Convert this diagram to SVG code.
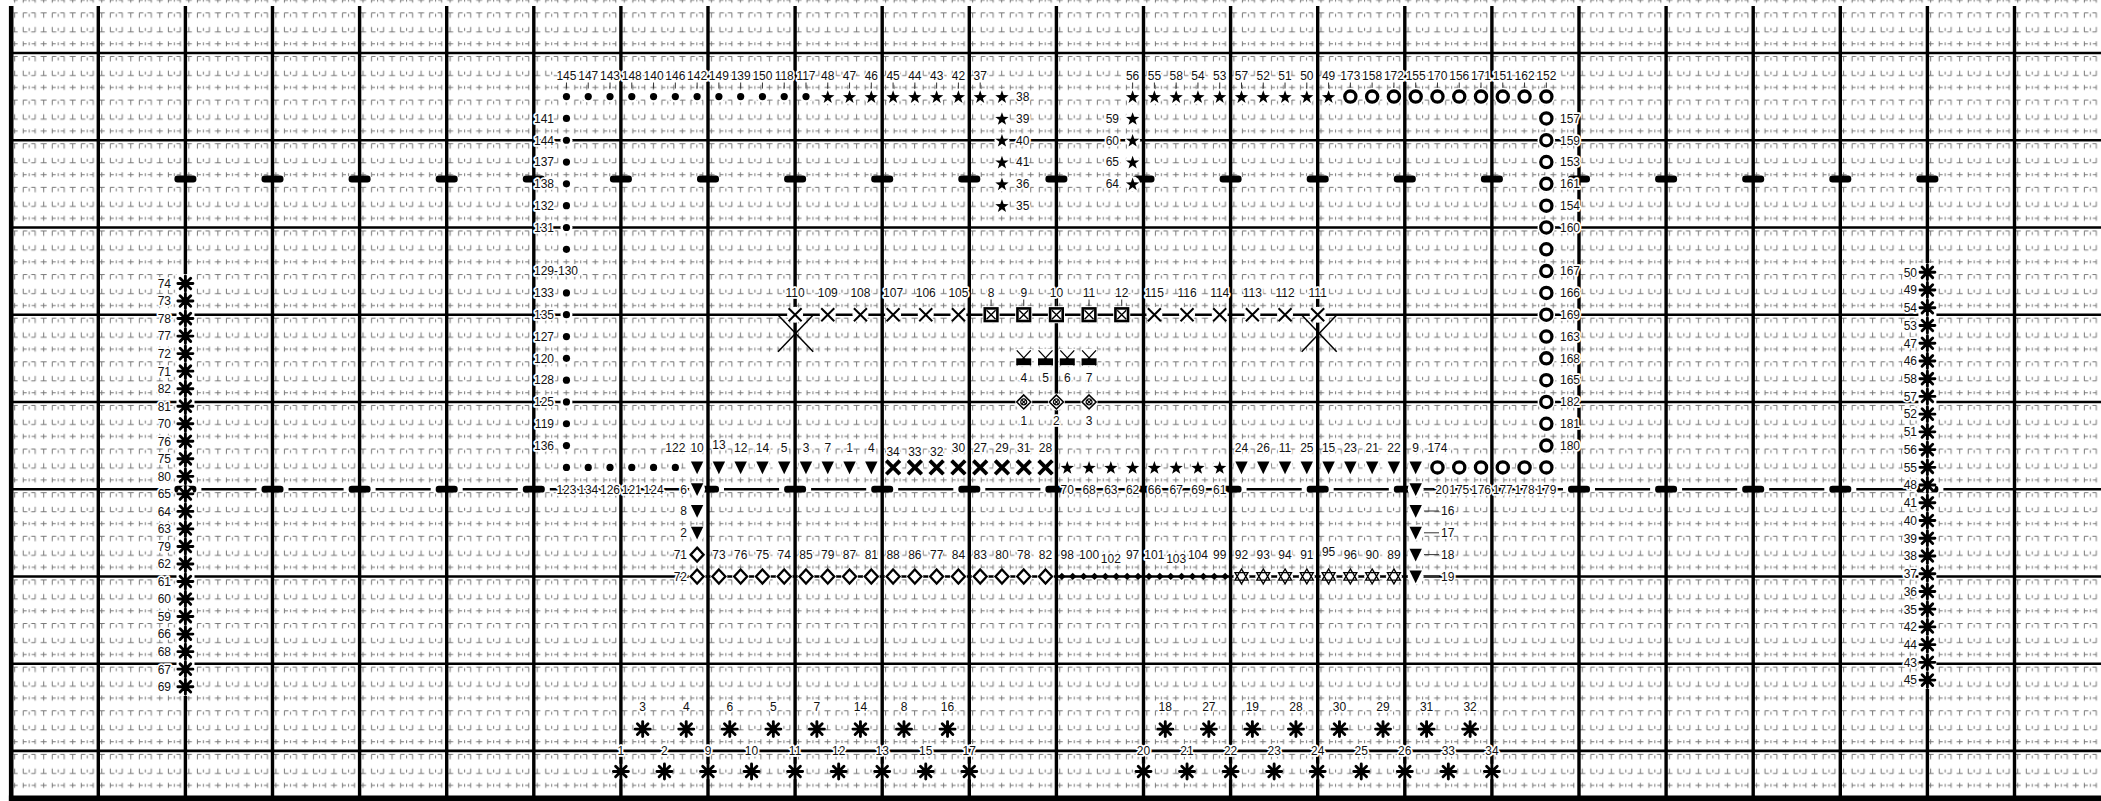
<svg xmlns="http://www.w3.org/2000/svg" width="2101" height="801" viewBox="0 0 2101 801">
<style>
.t{font-family:"Liberation Sans",Arial,sans-serif;font-size:12px;fill:#111;stroke:#fff;stroke-width:3.5px;stroke-linejoin:round;paint-order:stroke;text-anchor:middle}
.te{text-anchor:end}.ts{text-anchor:start}
.hl{stroke:#000;stroke-width:2.6px}
.vl{stroke:#000;stroke-width:3.4px}
.tk{stroke:#333;stroke-width:1px;fill:none}
.big{stroke:#000;stroke-width:1.5px}
</style>
<defs>
<pattern id="tx" patternUnits="userSpaceOnUse" x="11.2" y="53" width="29.03" height="43.62">
<path d="M0.5,3.5H6.5M3.5,3.5V8.5M12,3.5H16M12,3.5V8.5M18,4.5V7.5M20,3.5H24M24,3.5V8.5M3.5,17.5V22.5M0.5,22.5H6.5M12,17.5V22.5M12,22.5H16M18,18.5V21.5M24,17.5V22.5M20,22.5H24M0.5,34.5H6.5M3.5,32V37M12,32V37M12,34.5H15.5M18,33V36M24,32V37M20.5,34.5H24" stroke="#777" stroke-width="1" fill="none"/>
</pattern>
<g id="s-dot"><circle r="6" fill="#fff"/><circle r="3.6" fill="#000"/></g>
<g id="s-star"><circle r="7.5" fill="#fff"/><path transform="translate(0,0.7)" d="M0,-7L1.65,-2.27L6.66,-2.16L2.66,0.87L4.11,5.66L0,2.8L-4.11,5.66L-2.66,0.87L-6.66,-2.16L-1.65,-2.27Z" fill="#000"/></g>
<g id="s-tri"><circle r="8" fill="#fff"/><path d="M-6.2,-6H6.2L0,6.8Z" fill="#000"/></g>
<g id="s-bx"><circle r="8.5" fill="#fff"/><path d="M-5.5,-5.5L5.5,5.5M5.5,-5.5L-5.5,5.5" stroke="#000" stroke-width="3.8" stroke-linecap="square"/></g>
<g id="s-tx"><circle r="8" fill="#fff"/><path d="M-6.5,-6.5L6.5,6.5M6.5,-6.5L-6.5,6.5" stroke="#000" stroke-width="2"/></g>
<g id="s-box"><rect x="-8.5" y="-8.5" width="17" height="17" fill="#fff"/><rect x="-6.3" y="-6.3" width="12.6" height="12.6" fill="#fff" stroke="#000" stroke-width="2.6"/><path d="M-4.5,-4.5L4.5,4.5M4.5,-4.5L-4.5,4.5" stroke="#000" stroke-width="1.4"/></g>
<g id="s-ring"><circle r="8.8" fill="#fff"/><circle r="5.6" fill="#fff" stroke="#000" stroke-width="3.3"/></g>
<g id="s-dia"><circle r="8.5" fill="#fff"/><path d="M0,-7L6.5,0L0,7L-6.5,0Z" fill="#fff" stroke="#000" stroke-width="2.3"/></g>
<g id="s-sd"><path d="M0,-3.6L3.8,0L0,3.6L-3.8,0Z" fill="#000"/></g>
<g id="s-hex"><circle r="8" fill="#fff"/><path d="M0,-7.5L6.5,3.75H-6.5Z M0,7.5L6.5,-3.75H-6.5Z" fill="#fff" stroke="#000" stroke-width="1.3"/></g>
<g id="s-bxr"><rect x="-8.5" y="-9.5" width="17" height="17.5" fill="#fff"/><path d="M-7,-8L7,7M7,-8L-7,7" stroke="#000" stroke-width="1.3"/><rect x="-7.5" y="0" width="15" height="6.8" fill="#000"/></g>
<g id="s-dd"><circle r="8.5" fill="#fff"/><path d="M0,-7L7,0L0,7L-7,0Z" fill="#fff" stroke="#000" stroke-width="1.6"/><circle r="3" fill="none" stroke="#000" stroke-width="1.2"/><path d="M-2.1,-2.1L2.1,2.1M2.1,-2.1L-2.1,2.1" stroke="#000" stroke-width="1.2"/></g>
<g id="s-ast"><circle r="8" fill="#fff"/><path d="M0,-7.5V7.5M-7.5,0H7.5M-5.3,-5.3L5.3,5.3M5.3,-5.3L-5.3,5.3" stroke="#000" stroke-width="2.9" stroke-linecap="round"/></g>
<g id="s-bar"><rect x="-16" y="-2" width="32" height="4" fill="#fff"/><rect x="-11" y="-3.4" width="22" height="6.8" rx="3.2" fill="#000"/></g>
</defs>
<rect width="2101" height="801" fill="#fff"/>
<rect x="13.5" y="0" width="2087.5" height="796" fill="url(#tx)"/>
<g id="grid">
<path class="hl" d="M11,53H2101M11,140.24H2101M11,227.48H2101M11,314.72H2101M11,401.96H2101M11,489.2H2101M11,576.44H2101M11,663.68H2101M11,750.92H2101"/>
<path class="vl" d="M98.3,6V797M185.4,6V797M272.5,6V797M359.6,6V797M446.7,6V797M533.8,6V797M620.9,6V797M708,6V797M795.1,6V797M882.2,6V797M969.3,6V797M1056.4,6V797M1143.5,6V797M1230.6,6V797M1317.7,6V797M1404.8,6V797M1491.9,6V797M1579,6V797M1666.1,6V797M1753.2,6V797M1840.3,6V797M1927.4,6V797M2014.5,6V797"/>
<rect x="8.9" y="6" width="4.6" height="795" fill="#000"/>
<rect x="8.9" y="795.5" width="2092.1" height="5.5" fill="#000"/>
<rect x="176.5" y="274" width="18" height="422" fill="#fff"/>
<rect x="1918.4" y="263" width="18" height="426" fill="#fff"/>
</g>
<g id="bars">
<use href="#s-bar" x="185.4" y="179"/><use href="#s-bar" x="272.5" y="179"/><use href="#s-bar" x="359.6" y="179"/><use href="#s-bar" x="446.7" y="179"/><use href="#s-bar" x="533.8" y="179"/><use href="#s-bar" x="620.9" y="179"/><use href="#s-bar" x="708" y="179"/><use href="#s-bar" x="795.1" y="179"/><use href="#s-bar" x="882.2" y="179"/><use href="#s-bar" x="969.3" y="179"/><use href="#s-bar" x="1056.4" y="179"/><use href="#s-bar" x="1143.5" y="179"/><use href="#s-bar" x="1230.6" y="179"/><use href="#s-bar" x="1317.7" y="179"/><use href="#s-bar" x="1404.8" y="179"/><use href="#s-bar" x="1491.9" y="179"/><use href="#s-bar" x="1579" y="179"/><use href="#s-bar" x="1666.1" y="179"/><use href="#s-bar" x="1753.2" y="179"/><use href="#s-bar" x="1840.3" y="179"/><use href="#s-bar" x="1927.4" y="179"/>
<use href="#s-bar" x="185.4" y="489.2"/><use href="#s-bar" x="272.5" y="489.2"/><use href="#s-bar" x="359.6" y="489.2"/><use href="#s-bar" x="446.7" y="489.2"/><use href="#s-bar" x="533.8" y="489.2"/><use href="#s-bar" x="620.9" y="489.2"/><use href="#s-bar" x="708" y="489.2"/><use href="#s-bar" x="795.1" y="489.2"/><use href="#s-bar" x="882.2" y="489.2"/><use href="#s-bar" x="969.3" y="489.2"/><use href="#s-bar" x="1056.4" y="489.2"/><use href="#s-bar" x="1143.5" y="489.2"/><use href="#s-bar" x="1230.6" y="489.2"/><use href="#s-bar" x="1317.7" y="489.2"/><use href="#s-bar" x="1404.8" y="489.2"/><use href="#s-bar" x="1491.9" y="489.2"/><use href="#s-bar" x="1579" y="489.2"/><use href="#s-bar" x="1666.1" y="489.2"/><use href="#s-bar" x="1753.2" y="489.2"/><use href="#s-bar" x="1840.3" y="489.2"/><use href="#s-bar" x="1927.4" y="489.2"/>
</g>
<g id="connectors">
<path class="tk" d="M566.46,82.5V88.5M588.24,82.5V88.5M610.01,82.5V88.5M631.79,82.5V88.5M653.56,82.5V88.5M675.34,82.5V88.5M697.11,82.5V88.5M718.89,82.5V88.5M740.66,82.5V88.5M762.44,82.5V88.5M784.21,82.5V88.5M805.99,82.5V88.5M827.76,82.5V88.5M849.54,82.5V88.5M871.31,82.5V88.5M893.09,82.5V88.5M914.86,82.5V88.5M936.64,82.5V88.5M958.41,82.5V88.5M980.19,82.5V88.5M1132.61,82.5V88.5M1154.39,82.5V88.5M1176.16,82.5V88.5M1197.94,82.5V88.5M1219.71,82.5V88.5M1241.49,82.5V88.5M1263.26,82.5V88.5M1285.04,82.5V88.5M1306.81,82.5V88.5M1328.59,82.5V88.5M1350.36,82.5V88.5M1372.14,82.5V88.5M1393.91,82.5V88.5M1415.69,82.5V88.5M1437.46,82.5V88.5M1459.24,82.5V88.5M1481.01,82.5V88.5M1502.79,82.5V88.5M1524.56,82.5V88.5M1546.34,82.5V88.5"/>
<path class="tk" d="M991.08,299.5V306.5M1023.74,299.5V306.5M1056.4,299.5V306.5M1089.06,299.5V306.5M1121.73,299.5V306.5"/>
<path class="tk" d="M1424,511H1439M1424,532.8H1439M1424,554.6H1439M1424,576.4H1439M1424,489.2H1433"/>
</g>
<g id="nodes">
<g id="dot-145"><use href="#s-dot" x="566.46" y="96.62"/><text class="t" x="566.46" y="80">145</text></g>
<g id="dot-147"><use href="#s-dot" x="588.24" y="96.62"/><text class="t" x="588.24" y="80">147</text></g>
<g id="dot-143"><use href="#s-dot" x="610.01" y="96.62"/><text class="t" x="610.01" y="80">143</text></g>
<g id="dot-148"><use href="#s-dot" x="631.79" y="96.62"/><text class="t" x="631.79" y="80">148</text></g>
<g id="dot-140"><use href="#s-dot" x="653.56" y="96.62"/><text class="t" x="653.56" y="80">140</text></g>
<g id="dot-146"><use href="#s-dot" x="675.34" y="96.62"/><text class="t" x="675.34" y="80">146</text></g>
<g id="dot-142"><use href="#s-dot" x="697.11" y="96.62"/><text class="t" x="697.11" y="80">142</text></g>
<g id="dot-149"><use href="#s-dot" x="718.89" y="96.62"/><text class="t" x="718.89" y="80">149</text></g>
<g id="dot-139"><use href="#s-dot" x="740.66" y="96.62"/><text class="t" x="740.66" y="80">139</text></g>
<g id="dot-150"><use href="#s-dot" x="762.44" y="96.62"/><text class="t" x="762.44" y="80">150</text></g>
<g id="dot-118"><use href="#s-dot" x="784.21" y="96.62"/><text class="t" x="784.21" y="80">118</text></g>
<g id="dot-117"><use href="#s-dot" x="805.99" y="96.62"/><text class="t" x="805.99" y="80">117</text></g>
<g id="star-48"><use href="#s-star" x="827.76" y="96.62"/><text class="t" x="827.76" y="80">48</text></g>
<g id="star-47"><use href="#s-star" x="849.54" y="96.62"/><text class="t" x="849.54" y="80">47</text></g>
<g id="star-46"><use href="#s-star" x="871.31" y="96.62"/><text class="t" x="871.31" y="80">46</text></g>
<g id="star-45"><use href="#s-star" x="893.09" y="96.62"/><text class="t" x="893.09" y="80">45</text></g>
<g id="star-44"><use href="#s-star" x="914.86" y="96.62"/><text class="t" x="914.86" y="80">44</text></g>
<g id="star-43"><use href="#s-star" x="936.64" y="96.62"/><text class="t" x="936.64" y="80">43</text></g>
<g id="star-42"><use href="#s-star" x="958.41" y="96.62"/><text class="t" x="958.41" y="80">42</text></g>
<g id="star-37"><use href="#s-star" x="980.19" y="96.62"/><text class="t" x="980.19" y="80">37</text></g>
<g id="star-38"><use href="#s-star" x="1001.96" y="96.62"/><text class="t ts" x="1016" y="100.9">38</text></g>
<g id="star-39"><use href="#s-star" x="1001.96" y="118.43"/><text class="t ts" x="1016" y="122.7">39</text></g>
<g id="star-40"><use href="#s-star" x="1001.96" y="140.24"/><text class="t ts" x="1016" y="144.5">40</text></g>
<g id="star-41"><use href="#s-star" x="1001.96" y="162.05"/><text class="t ts" x="1016" y="166.3">41</text></g>
<g id="star-36"><use href="#s-star" x="1001.96" y="183.86"/><text class="t ts" x="1016" y="188.2">36</text></g>
<g id="star-35"><use href="#s-star" x="1001.96" y="205.67"/><text class="t ts" x="1016" y="210">35</text></g>
<g id="star-56"><use href="#s-star" x="1132.61" y="96.62"/><text class="t" x="1132.61" y="80">56</text></g>
<g id="star-55"><use href="#s-star" x="1154.39" y="96.62"/><text class="t" x="1154.39" y="80">55</text></g>
<g id="star-58"><use href="#s-star" x="1176.16" y="96.62"/><text class="t" x="1176.16" y="80">58</text></g>
<g id="star-54"><use href="#s-star" x="1197.94" y="96.62"/><text class="t" x="1197.94" y="80">54</text></g>
<g id="star-53"><use href="#s-star" x="1219.71" y="96.62"/><text class="t" x="1219.71" y="80">53</text></g>
<g id="star-57"><use href="#s-star" x="1241.49" y="96.62"/><text class="t" x="1241.49" y="80">57</text></g>
<g id="star-52"><use href="#s-star" x="1263.26" y="96.62"/><text class="t" x="1263.26" y="80">52</text></g>
<g id="star-51"><use href="#s-star" x="1285.04" y="96.62"/><text class="t" x="1285.04" y="80">51</text></g>
<g id="star-50"><use href="#s-star" x="1306.81" y="96.62"/><text class="t" x="1306.81" y="80">50</text></g>
<g id="star-49"><use href="#s-star" x="1328.59" y="96.62"/><text class="t" x="1328.59" y="80">49</text></g>
<g id="star-59"><use href="#s-star" x="1132.61" y="118.43"/><text class="t te" x="1119" y="122.7">59</text></g>
<g id="star-60"><use href="#s-star" x="1132.61" y="140.24"/><text class="t te" x="1119" y="144.5">60</text></g>
<g id="star-65"><use href="#s-star" x="1132.61" y="162.05"/><text class="t te" x="1119" y="166.3">65</text></g>
<g id="star-64"><use href="#s-star" x="1132.61" y="183.86"/><text class="t te" x="1119" y="188.2">64</text></g>
<g id="ring-173"><use href="#s-ring" x="1350.36" y="96.62"/><text class="t" x="1350.36" y="80">173</text></g>
<g id="ring-158"><use href="#s-ring" x="1372.14" y="96.62"/><text class="t" x="1372.14" y="80">158</text></g>
<g id="ring-172"><use href="#s-ring" x="1393.91" y="96.62"/><text class="t" x="1393.91" y="80">172</text></g>
<g id="ring-155"><use href="#s-ring" x="1415.69" y="96.62"/><text class="t" x="1415.69" y="80">155</text></g>
<g id="ring-170"><use href="#s-ring" x="1437.46" y="96.62"/><text class="t" x="1437.46" y="80">170</text></g>
<g id="ring-156"><use href="#s-ring" x="1459.24" y="96.62"/><text class="t" x="1459.24" y="80">156</text></g>
<g id="ring-171"><use href="#s-ring" x="1481.01" y="96.62"/><text class="t" x="1481.01" y="80">171</text></g>
<g id="ring-151"><use href="#s-ring" x="1502.79" y="96.62"/><text class="t" x="1502.79" y="80">151</text></g>
<g id="ring-162"><use href="#s-ring" x="1524.56" y="96.62"/><text class="t" x="1524.56" y="80">162</text></g>
<g id="ring-152"><use href="#s-ring" x="1546.34" y="96.62"/><text class="t" x="1546.34" y="80">152</text></g>
<g id="ring-157"><use href="#s-ring" x="1546.34" y="118.43"/><text class="t ts" x="1560" y="122.7">157</text></g>
<g id="ring-159"><use href="#s-ring" x="1546.34" y="140.24"/><text class="t ts" x="1560" y="144.5">159</text></g>
<g id="ring-153"><use href="#s-ring" x="1546.34" y="162.05"/><text class="t ts" x="1560" y="166.3">153</text></g>
<g id="ring-161"><use href="#s-ring" x="1546.34" y="183.86"/><text class="t ts" x="1560" y="188.2">161</text></g>
<g id="ring-154"><use href="#s-ring" x="1546.34" y="205.67"/><text class="t ts" x="1560" y="210">154</text></g>
<g id="ring-160"><use href="#s-ring" x="1546.34" y="227.48"/><text class="t ts" x="1560" y="231.8">160</text></g>
<g id="ring-n9"><use href="#s-ring" x="1546.34" y="249.29"/></g>
<g id="ring-167"><use href="#s-ring" x="1546.34" y="271.1"/><text class="t ts" x="1560" y="275.4">167</text></g>
<g id="ring-166"><use href="#s-ring" x="1546.34" y="292.91"/><text class="t ts" x="1560" y="297.2">166</text></g>
<g id="ring-169"><use href="#s-ring" x="1546.34" y="314.72"/><text class="t ts" x="1560" y="319">169</text></g>
<g id="ring-163"><use href="#s-ring" x="1546.34" y="336.53"/><text class="t ts" x="1560" y="340.8">163</text></g>
<g id="ring-168"><use href="#s-ring" x="1546.34" y="358.34"/><text class="t ts" x="1560" y="362.6">168</text></g>
<g id="ring-165"><use href="#s-ring" x="1546.34" y="380.15"/><text class="t ts" x="1560" y="384.4">165</text></g>
<g id="ring-182"><use href="#s-ring" x="1546.34" y="401.96"/><text class="t ts" x="1560" y="406.3">182</text></g>
<g id="ring-181"><use href="#s-ring" x="1546.34" y="423.77"/><text class="t ts" x="1560" y="428.1">181</text></g>
<g id="ring-180"><use href="#s-ring" x="1546.34" y="445.58"/><text class="t ts" x="1560" y="449.9">180</text></g>
<g id="dot-141"><use href="#s-dot" x="566.46" y="118.43"/><text class="t te" x="554" y="122.7">141</text></g>
<g id="dot-144"><use href="#s-dot" x="566.46" y="140.24"/><text class="t te" x="554" y="144.5">144</text></g>
<g id="dot-137"><use href="#s-dot" x="566.46" y="162.05"/><text class="t te" x="554" y="166.3">137</text></g>
<g id="dot-138"><use href="#s-dot" x="566.46" y="183.86"/><text class="t te" x="554" y="188.2">138</text></g>
<g id="dot-132"><use href="#s-dot" x="566.46" y="205.67"/><text class="t te" x="554" y="210">132</text></g>
<g id="dot-131"><use href="#s-dot" x="566.46" y="227.48"/><text class="t te" x="554" y="231.8">131</text></g>
<g id="dot-n9"><use href="#s-dot" x="566.46" y="249.29"/></g>
<g id="dot-129-130"><text class="t te" x="578" y="275.4">129-130</text></g>
<g id="dot-133"><use href="#s-dot" x="566.46" y="292.91"/><text class="t te" x="554" y="297.2">133</text></g>
<g id="dot-135"><use href="#s-dot" x="566.46" y="314.72"/><text class="t te" x="554" y="319">135</text></g>
<g id="dot-127"><use href="#s-dot" x="566.46" y="336.53"/><text class="t te" x="554" y="340.8">127</text></g>
<g id="dot-120"><use href="#s-dot" x="566.46" y="358.34"/><text class="t te" x="554" y="362.6">120</text></g>
<g id="dot-128"><use href="#s-dot" x="566.46" y="380.15"/><text class="t te" x="554" y="384.4">128</text></g>
<g id="dot-125"><use href="#s-dot" x="566.46" y="401.96"/><text class="t te" x="554" y="406.3">125</text></g>
<g id="dot-119"><use href="#s-dot" x="566.46" y="423.77"/><text class="t te" x="554" y="428.1">119</text></g>
<g id="dot-136"><use href="#s-dot" x="566.46" y="445.58"/><text class="t te" x="554" y="449.9">136</text></g>
<g id="dot-123"><use href="#s-dot" x="566.46" y="467.39"/><text class="t" x="566.46" y="493.5">123</text></g>
<g id="dot-134"><use href="#s-dot" x="588.24" y="467.39"/><text class="t" x="588.24" y="493.5">134</text></g>
<g id="dot-126"><use href="#s-dot" x="610.01" y="467.39"/><text class="t" x="610.01" y="493.5">126</text></g>
<g id="dot-121"><use href="#s-dot" x="631.79" y="467.39"/><text class="t" x="631.79" y="493.5">121</text></g>
<g id="dot-124"><use href="#s-dot" x="653.56" y="467.39"/><text class="t" x="653.56" y="493.5">124</text></g>
<g id="dot-122"><use href="#s-dot" x="675.34" y="467.39"/><text class="t" x="675.34" y="451.5">122</text></g>
<g id="tri-10"><use href="#s-tri" x="697.11" y="467.39"/><text class="t" x="697.11" y="451.5">10</text></g>
<g id="tri-13"><use href="#s-tri" x="718.89" y="467.39"/><text class="t" x="718.89" y="449">13</text></g>
<g id="tri-12"><use href="#s-tri" x="740.66" y="467.39"/><text class="t" x="740.66" y="451.5">12</text></g>
<g id="tri-14"><use href="#s-tri" x="762.44" y="467.39"/><text class="t" x="762.44" y="451.5">14</text></g>
<g id="tri-5"><use href="#s-tri" x="784.21" y="467.39"/><text class="t" x="784.21" y="451.5">5</text></g>
<g id="tri-3"><use href="#s-tri" x="805.99" y="467.39"/><text class="t" x="805.99" y="451.5">3</text></g>
<g id="tri-7"><use href="#s-tri" x="827.76" y="467.39"/><text class="t" x="827.76" y="451.5">7</text></g>
<g id="tri-1"><use href="#s-tri" x="849.54" y="467.39"/><text class="t" x="849.54" y="451.5">1</text></g>
<g id="tri-4"><use href="#s-tri" x="871.31" y="467.39"/><text class="t" x="871.31" y="451.5">4</text></g>
<g id="bx-34"><use href="#s-bx" x="893.09" y="467.39"/><text class="t" x="893.09" y="455.5">34</text></g>
<g id="bx-33"><use href="#s-bx" x="914.86" y="467.39"/><text class="t" x="914.86" y="455.5">33</text></g>
<g id="bx-32"><use href="#s-bx" x="936.64" y="467.39"/><text class="t" x="936.64" y="455.5">32</text></g>
<g id="bx-30"><use href="#s-bx" x="958.41" y="467.39"/><text class="t" x="958.41" y="451.5">30</text></g>
<g id="bx-27"><use href="#s-bx" x="980.19" y="467.39"/><text class="t" x="980.19" y="451.5">27</text></g>
<g id="bx-29"><use href="#s-bx" x="1001.96" y="467.39"/><text class="t" x="1001.96" y="451.5">29</text></g>
<g id="bx-31"><use href="#s-bx" x="1023.74" y="467.39"/><text class="t" x="1023.74" y="451.5">31</text></g>
<g id="bx-28"><use href="#s-bx" x="1045.51" y="467.39"/><text class="t" x="1045.51" y="451.5">28</text></g>
<g id="star-70"><use href="#s-star" x="1067.29" y="467.39"/><text class="t" x="1067.29" y="493.5">70</text></g>
<g id="star-68"><use href="#s-star" x="1089.06" y="467.39"/><text class="t" x="1089.06" y="493.5">68</text></g>
<g id="star-63"><use href="#s-star" x="1110.84" y="467.39"/><text class="t" x="1110.84" y="493.5">63</text></g>
<g id="star-62"><use href="#s-star" x="1132.61" y="467.39"/><text class="t" x="1132.61" y="493.5">62</text></g>
<g id="star-66"><use href="#s-star" x="1154.39" y="467.39"/><text class="t" x="1154.39" y="493.5">66</text></g>
<g id="star-67"><use href="#s-star" x="1176.16" y="467.39"/><text class="t" x="1176.16" y="493.5">67</text></g>
<g id="star-69"><use href="#s-star" x="1197.94" y="467.39"/><text class="t" x="1197.94" y="493.5">69</text></g>
<g id="star-61"><use href="#s-star" x="1219.71" y="467.39"/><text class="t" x="1219.71" y="493.5">61</text></g>
<g id="tri-24"><use href="#s-tri" x="1241.49" y="467.39"/><text class="t" x="1241.49" y="451.5">24</text></g>
<g id="tri-26"><use href="#s-tri" x="1263.26" y="467.39"/><text class="t" x="1263.26" y="451.5">26</text></g>
<g id="tri-11"><use href="#s-tri" x="1285.04" y="467.39"/><text class="t" x="1285.04" y="451.5">11</text></g>
<g id="tri-25"><use href="#s-tri" x="1306.81" y="467.39"/><text class="t" x="1306.81" y="451.5">25</text></g>
<g id="tri-15"><use href="#s-tri" x="1328.59" y="467.39"/><text class="t" x="1328.59" y="451.5">15</text></g>
<g id="tri-23"><use href="#s-tri" x="1350.36" y="467.39"/><text class="t" x="1350.36" y="451.5">23</text></g>
<g id="tri-21"><use href="#s-tri" x="1372.14" y="467.39"/><text class="t" x="1372.14" y="451.5">21</text></g>
<g id="tri-22"><use href="#s-tri" x="1393.91" y="467.39"/><text class="t" x="1393.91" y="451.5">22</text></g>
<g id="tri-9"><use href="#s-tri" x="1415.69" y="467.39"/><text class="t" x="1415.69" y="451.5">9</text></g>
<g id="ring-174"><use href="#s-ring" x="1437.46" y="467.39"/><text class="t" x="1437.46" y="451.5">174</text></g>
<g id="ring-175"><use href="#s-ring" x="1459.24" y="467.39"/><text class="t" x="1459.24" y="493.5">175</text></g>
<g id="ring-176"><use href="#s-ring" x="1481.01" y="467.39"/><text class="t" x="1481.01" y="493.5">176</text></g>
<g id="ring-177"><use href="#s-ring" x="1502.79" y="467.39"/><text class="t" x="1502.79" y="493.5">177</text></g>
<g id="ring-178"><use href="#s-ring" x="1524.56" y="467.39"/><text class="t" x="1524.56" y="493.5">178</text></g>
<g id="ring-179"><use href="#s-ring" x="1546.34" y="467.39"/><text class="t" x="1546.34" y="493.5">179</text></g>
<g id="tri-6"><use href="#s-tri" x="697.11" y="489.2"/><text class="t te" x="687" y="493.5">6</text></g>
<g id="tri-8"><use href="#s-tri" x="697.11" y="511.01"/><text class="t te" x="687" y="515.3">8</text></g>
<g id="tri-2"><use href="#s-tri" x="697.11" y="532.82"/><text class="t te" x="687" y="537.1">2</text></g>
<g id="dia-71"><use href="#s-dia" x="697.11" y="554.63"/><text class="t te" x="687" y="558.9">71</text></g>
<g id="dia-72"><use href="#s-dia" x="697.11" y="576.44"/><text class="t te" x="687" y="580.7">72</text></g>
<g id="dia-73"><use href="#s-dia" x="718.89" y="576.44"/><text class="t" x="718.89" y="559">73</text></g>
<g id="dia-76"><use href="#s-dia" x="740.66" y="576.44"/><text class="t" x="740.66" y="559">76</text></g>
<g id="dia-75"><use href="#s-dia" x="762.44" y="576.44"/><text class="t" x="762.44" y="559">75</text></g>
<g id="dia-74"><use href="#s-dia" x="784.21" y="576.44"/><text class="t" x="784.21" y="559">74</text></g>
<g id="dia-85"><use href="#s-dia" x="805.99" y="576.44"/><text class="t" x="805.99" y="559">85</text></g>
<g id="dia-79"><use href="#s-dia" x="827.76" y="576.44"/><text class="t" x="827.76" y="559">79</text></g>
<g id="dia-87"><use href="#s-dia" x="849.54" y="576.44"/><text class="t" x="849.54" y="559">87</text></g>
<g id="dia-81"><use href="#s-dia" x="871.31" y="576.44"/><text class="t" x="871.31" y="559">81</text></g>
<g id="dia-88"><use href="#s-dia" x="893.09" y="576.44"/><text class="t" x="893.09" y="559">88</text></g>
<g id="dia-86"><use href="#s-dia" x="914.86" y="576.44"/><text class="t" x="914.86" y="559">86</text></g>
<g id="dia-77"><use href="#s-dia" x="936.64" y="576.44"/><text class="t" x="936.64" y="559">77</text></g>
<g id="dia-84"><use href="#s-dia" x="958.41" y="576.44"/><text class="t" x="958.41" y="559">84</text></g>
<g id="dia-83"><use href="#s-dia" x="980.19" y="576.44"/><text class="t" x="980.19" y="559">83</text></g>
<g id="dia-80"><use href="#s-dia" x="1001.96" y="576.44"/><text class="t" x="1001.96" y="559">80</text></g>
<g id="dia-78"><use href="#s-dia" x="1023.74" y="576.44"/><text class="t" x="1023.74" y="559">78</text></g>
<g id="dia-82"><use href="#s-dia" x="1045.51" y="576.44"/><text class="t" x="1045.51" y="559">82</text></g>
<g id="sd-98"><use href="#s-sd" x="1061.84" y="576.44"/><use href="#s-sd" x="1072.74" y="576.44"/><text class="t" x="1067.29" y="559">98</text></g>
<g id="sd-100"><use href="#s-sd" x="1083.61" y="576.44"/><use href="#s-sd" x="1094.51" y="576.44"/><text class="t" x="1089.06" y="559">100</text></g>
<g id="sd-102"><use href="#s-sd" x="1105.39" y="576.44"/><use href="#s-sd" x="1116.29" y="576.44"/><text class="t" x="1110.84" y="563">102</text></g>
<g id="sd-97"><use href="#s-sd" x="1127.16" y="576.44"/><use href="#s-sd" x="1138.06" y="576.44"/><text class="t" x="1132.61" y="559">97</text></g>
<g id="sd-101"><use href="#s-sd" x="1148.94" y="576.44"/><use href="#s-sd" x="1159.84" y="576.44"/><text class="t" x="1154.39" y="559">101</text></g>
<g id="sd-103"><use href="#s-sd" x="1170.71" y="576.44"/><use href="#s-sd" x="1181.61" y="576.44"/><text class="t" x="1176.16" y="563">103</text></g>
<g id="sd-104"><use href="#s-sd" x="1192.49" y="576.44"/><use href="#s-sd" x="1203.39" y="576.44"/><text class="t" x="1197.94" y="559">104</text></g>
<g id="sd-99"><use href="#s-sd" x="1214.26" y="576.44"/><use href="#s-sd" x="1225.16" y="576.44"/><text class="t" x="1219.71" y="559">99</text></g>
<g id="hex-92"><use href="#s-hex" x="1241.49" y="576.44"/><text class="t" x="1241.49" y="559">92</text></g>
<g id="hex-93"><use href="#s-hex" x="1263.26" y="576.44"/><text class="t" x="1263.26" y="559">93</text></g>
<g id="hex-94"><use href="#s-hex" x="1285.04" y="576.44"/><text class="t" x="1285.04" y="559">94</text></g>
<g id="hex-91"><use href="#s-hex" x="1306.81" y="576.44"/><text class="t" x="1306.81" y="559">91</text></g>
<g id="hex-95"><use href="#s-hex" x="1328.59" y="576.44"/><text class="t" x="1328.59" y="556">95</text></g>
<g id="hex-96"><use href="#s-hex" x="1350.36" y="576.44"/><text class="t" x="1350.36" y="559">96</text></g>
<g id="hex-90"><use href="#s-hex" x="1372.14" y="576.44"/><text class="t" x="1372.14" y="559">90</text></g>
<g id="hex-89"><use href="#s-hex" x="1393.91" y="576.44"/><text class="t" x="1393.91" y="559">89</text></g>
<g id="tri-20"><use href="#s-tri" x="1415.69" y="489.2"/><text class="t" x="1442" y="493.5">20</text></g>
<g id="tri-16"><use href="#s-tri" x="1415.69" y="511.01"/><text class="t ts" x="1441" y="515.3">16</text></g>
<g id="tri-17"><use href="#s-tri" x="1415.69" y="532.82"/><text class="t ts" x="1441" y="537.1">17</text></g>
<g id="tri-18"><use href="#s-tri" x="1415.69" y="554.63"/><text class="t ts" x="1441" y="558.9">18</text></g>
<g id="tri-19"><use href="#s-tri" x="1415.69" y="576.44"/><text class="t ts" x="1441" y="580.7">19</text></g>
<g id="tx-110"><line class="big" x1="778" y1="315" x2="813.2" y2="351.7"/><line class="big" x1="813.2" y1="315" x2="778" y2="351.7"/><use href="#s-tx" x="795.1" y="314.72"/><text class="t" x="795.1" y="297">110</text></g>
<g id="tx-109"><use href="#s-tx" x="827.76" y="314.72"/><text class="t" x="827.76" y="297">109</text></g>
<g id="tx-108"><use href="#s-tx" x="860.43" y="314.72"/><text class="t" x="860.43" y="297">108</text></g>
<g id="tx-107"><use href="#s-tx" x="893.09" y="314.72"/><text class="t" x="893.09" y="297">107</text></g>
<g id="tx-106"><use href="#s-tx" x="925.75" y="314.72"/><text class="t" x="925.75" y="297">106</text></g>
<g id="tx-105"><use href="#s-tx" x="958.41" y="314.72"/><text class="t" x="958.41" y="297">105</text></g>
<g id="box-8"><use href="#s-box" x="991.08" y="314.72"/><text class="t" x="991.08" y="297">8</text></g>
<g id="box-9"><use href="#s-box" x="1023.74" y="314.72"/><text class="t" x="1023.74" y="297">9</text></g>
<g id="box-10"><use href="#s-box" x="1056.4" y="314.72"/><text class="t" x="1056.4" y="297">10</text></g>
<g id="box-11"><use href="#s-box" x="1089.06" y="314.72"/><text class="t" x="1089.06" y="297">11</text></g>
<g id="box-12"><use href="#s-box" x="1121.73" y="314.72"/><text class="t" x="1121.73" y="297">12</text></g>
<g id="tx-115"><use href="#s-tx" x="1154.39" y="314.72"/><text class="t" x="1154.39" y="297">115</text></g>
<g id="tx-116"><use href="#s-tx" x="1187.05" y="314.72"/><text class="t" x="1187.05" y="297">116</text></g>
<g id="tx-114"><use href="#s-tx" x="1219.71" y="314.72"/><text class="t" x="1219.71" y="297">114</text></g>
<g id="tx-113"><use href="#s-tx" x="1252.38" y="314.72"/><text class="t" x="1252.38" y="297">113</text></g>
<g id="tx-112"><use href="#s-tx" x="1285.04" y="314.72"/><text class="t" x="1285.04" y="297">112</text></g>
<g id="tx-111"><line class="big" x1="1301.7" y1="315" x2="1336.7" y2="351.7"/><line class="big" x1="1336.7" y1="315" x2="1301.7" y2="351.7"/><use href="#s-tx" x="1317.7" y="314.72"/><text class="t" x="1317.7" y="297">111</text></g>
<g id="bxr-4"><use href="#s-bxr" x="1023.74" y="358.34"/><text class="t" x="1023.74" y="382">4</text></g>
<g id="bxr-5"><use href="#s-bxr" x="1045.51" y="358.34"/><text class="t" x="1045.51" y="382">5</text></g>
<g id="bxr-6"><use href="#s-bxr" x="1067.29" y="358.34"/><text class="t" x="1067.29" y="382">6</text></g>
<g id="bxr-7"><use href="#s-bxr" x="1089.06" y="358.34"/><text class="t" x="1089.06" y="382">7</text></g>
<g id="dd-1"><use href="#s-dd" x="1023.74" y="401.96"/><text class="t" x="1023.74" y="425">1</text></g>
<g id="dd-2"><use href="#s-dd" x="1056.4" y="401.96"/><text class="t" x="1056.4" y="425">2</text></g>
<g id="dd-3"><use href="#s-dd" x="1089.06" y="401.96"/><text class="t" x="1089.06" y="425">3</text></g>
<g id="astL-74"><use href="#s-ast" x="185.4" y="283.5"/><text class="t te" x="171" y="287.8">74</text></g>
<g id="astL-73"><use href="#s-ast" x="185.4" y="301.03"/><text class="t te" x="171" y="305.3">73</text></g>
<g id="astL-78"><use href="#s-ast" x="185.4" y="318.56"/><text class="t te" x="171" y="322.9">78</text></g>
<g id="astL-77"><use href="#s-ast" x="185.4" y="336.09"/><text class="t te" x="171" y="340.4">77</text></g>
<g id="astL-72"><use href="#s-ast" x="185.4" y="353.62"/><text class="t te" x="171" y="357.9">72</text></g>
<g id="astL-71"><use href="#s-ast" x="185.4" y="371.15"/><text class="t te" x="171" y="375.5">71</text></g>
<g id="astL-82"><use href="#s-ast" x="185.4" y="388.68"/><text class="t te" x="171" y="393">82</text></g>
<g id="astL-81"><use href="#s-ast" x="185.4" y="406.21"/><text class="t te" x="171" y="410.5">81</text></g>
<g id="astL-70"><use href="#s-ast" x="185.4" y="423.74"/><text class="t te" x="171" y="428">70</text></g>
<g id="astL-76"><use href="#s-ast" x="185.4" y="441.27"/><text class="t te" x="171" y="445.6">76</text></g>
<g id="astL-75"><use href="#s-ast" x="185.4" y="458.8"/><text class="t te" x="171" y="463.1">75</text></g>
<g id="astL-80"><use href="#s-ast" x="185.4" y="476.33"/><text class="t te" x="171" y="480.6">80</text></g>
<g id="astL-65"><use href="#s-ast" x="185.4" y="493.86"/><text class="t te" x="171" y="498.2">65</text></g>
<g id="astL-64"><use href="#s-ast" x="185.4" y="511.39"/><text class="t te" x="171" y="515.7">64</text></g>
<g id="astL-63"><use href="#s-ast" x="185.4" y="528.92"/><text class="t te" x="171" y="533.2">63</text></g>
<g id="astL-79"><use href="#s-ast" x="185.4" y="546.45"/><text class="t te" x="171" y="550.8">79</text></g>
<g id="astL-62"><use href="#s-ast" x="185.4" y="563.98"/><text class="t te" x="171" y="568.3">62</text></g>
<g id="astL-61"><use href="#s-ast" x="185.4" y="581.51"/><text class="t te" x="171" y="585.8">61</text></g>
<g id="astL-60"><use href="#s-ast" x="185.4" y="599.04"/><text class="t te" x="171" y="603.3">60</text></g>
<g id="astL-59"><use href="#s-ast" x="185.4" y="616.57"/><text class="t te" x="171" y="620.9">59</text></g>
<g id="astL-66"><use href="#s-ast" x="185.4" y="634.1"/><text class="t te" x="171" y="638.4">66</text></g>
<g id="astL-68"><use href="#s-ast" x="185.4" y="651.63"/><text class="t te" x="171" y="655.9">68</text></g>
<g id="astL-67"><use href="#s-ast" x="185.4" y="669.16"/><text class="t te" x="171" y="673.5">67</text></g>
<g id="astL-69"><use href="#s-ast" x="185.4" y="686.69"/><text class="t te" x="171" y="691">69</text></g>
<g id="astR-50"><use href="#s-ast" x="1927.4" y="272.3"/><text class="t te" x="1917" y="276.6">50</text></g>
<g id="astR-49"><use href="#s-ast" x="1927.4" y="290.03"/><text class="t te" x="1917" y="294.3">49</text></g>
<g id="astR-54"><use href="#s-ast" x="1927.4" y="307.76"/><text class="t te" x="1917" y="312.1">54</text></g>
<g id="astR-53"><use href="#s-ast" x="1927.4" y="325.49"/><text class="t te" x="1917" y="329.8">53</text></g>
<g id="astR-47"><use href="#s-ast" x="1927.4" y="343.22"/><text class="t te" x="1917" y="347.5">47</text></g>
<g id="astR-46"><use href="#s-ast" x="1927.4" y="360.95"/><text class="t te" x="1917" y="365.3">46</text></g>
<g id="astR-58"><use href="#s-ast" x="1927.4" y="378.68"/><text class="t te" x="1917" y="383">58</text></g>
<g id="astR-57"><use href="#s-ast" x="1927.4" y="396.41"/><text class="t te" x="1917" y="400.7">57</text></g>
<g id="astR-52"><use href="#s-ast" x="1927.4" y="414.14"/><text class="t te" x="1917" y="418.4">52</text></g>
<g id="astR-51"><use href="#s-ast" x="1927.4" y="431.87"/><text class="t te" x="1917" y="436.2">51</text></g>
<g id="astR-56"><use href="#s-ast" x="1927.4" y="449.6"/><text class="t te" x="1917" y="453.9">56</text></g>
<g id="astR-55"><use href="#s-ast" x="1927.4" y="467.33"/><text class="t te" x="1917" y="471.6">55</text></g>
<g id="astR-48"><use href="#s-ast" x="1927.4" y="485.06"/><text class="t te" x="1917" y="489.4">48</text></g>
<g id="astR-41"><use href="#s-ast" x="1927.4" y="502.79"/><text class="t te" x="1917" y="507.1">41</text></g>
<g id="astR-40"><use href="#s-ast" x="1927.4" y="520.52"/><text class="t te" x="1917" y="524.8">40</text></g>
<g id="astR-39"><use href="#s-ast" x="1927.4" y="538.25"/><text class="t te" x="1917" y="542.6">39</text></g>
<g id="astR-38"><use href="#s-ast" x="1927.4" y="555.98"/><text class="t te" x="1917" y="560.3">38</text></g>
<g id="astR-37"><use href="#s-ast" x="1927.4" y="573.71"/><text class="t te" x="1917" y="578">37</text></g>
<g id="astR-36"><use href="#s-ast" x="1927.4" y="591.44"/><text class="t te" x="1917" y="595.7">36</text></g>
<g id="astR-35"><use href="#s-ast" x="1927.4" y="609.17"/><text class="t te" x="1917" y="613.5">35</text></g>
<g id="astR-42"><use href="#s-ast" x="1927.4" y="626.9"/><text class="t te" x="1917" y="631.2">42</text></g>
<g id="astR-44"><use href="#s-ast" x="1927.4" y="644.63"/><text class="t te" x="1917" y="648.9">44</text></g>
<g id="astR-43"><use href="#s-ast" x="1927.4" y="662.36"/><text class="t te" x="1917" y="666.7">43</text></g>
<g id="astR-45"><use href="#s-ast" x="1927.4" y="680.09"/><text class="t te" x="1917" y="684.4">45</text></g>
<g id="astB-3"><use href="#s-ast" x="642.68" y="729.11"/><text class="t" x="642.68" y="711">3</text></g>
<g id="astB-4"><use href="#s-ast" x="686.23" y="729.11"/><text class="t" x="686.23" y="711">4</text></g>
<g id="astB-6"><use href="#s-ast" x="729.78" y="729.11"/><text class="t" x="729.78" y="711">6</text></g>
<g id="astB-5"><use href="#s-ast" x="773.33" y="729.11"/><text class="t" x="773.33" y="711">5</text></g>
<g id="astB-7"><use href="#s-ast" x="816.88" y="729.11"/><text class="t" x="816.88" y="711">7</text></g>
<g id="astB-14"><use href="#s-ast" x="860.43" y="729.11"/><text class="t" x="860.43" y="711">14</text></g>
<g id="astB-8"><use href="#s-ast" x="903.98" y="729.11"/><text class="t" x="903.98" y="711">8</text></g>
<g id="astB-16"><use href="#s-ast" x="947.53" y="729.11"/><text class="t" x="947.53" y="711">16</text></g>
<g id="astB-18"><use href="#s-ast" x="1165.28" y="729.11"/><text class="t" x="1165.28" y="711">18</text></g>
<g id="astB-27"><use href="#s-ast" x="1208.83" y="729.11"/><text class="t" x="1208.83" y="711">27</text></g>
<g id="astB-19"><use href="#s-ast" x="1252.38" y="729.11"/><text class="t" x="1252.38" y="711">19</text></g>
<g id="astB-28"><use href="#s-ast" x="1295.93" y="729.11"/><text class="t" x="1295.93" y="711">28</text></g>
<g id="astB-30"><use href="#s-ast" x="1339.48" y="729.11"/><text class="t" x="1339.48" y="711">30</text></g>
<g id="astB-29"><use href="#s-ast" x="1383.03" y="729.11"/><text class="t" x="1383.03" y="711">29</text></g>
<g id="astB-31"><use href="#s-ast" x="1426.58" y="729.11"/><text class="t" x="1426.58" y="711">31</text></g>
<g id="astB-32"><use href="#s-ast" x="1470.13" y="729.11"/><text class="t" x="1470.13" y="711">32</text></g>
<g id="astB-1"><use href="#s-ast" x="620.9" y="771.5"/><text class="t" x="620.9" y="755.2">1</text></g>
<g id="astB-2"><use href="#s-ast" x="664.45" y="771.5"/><text class="t" x="664.45" y="755.2">2</text></g>
<g id="astB-9"><use href="#s-ast" x="708" y="771.5"/><text class="t" x="708" y="755.2">9</text></g>
<g id="astB-10"><use href="#s-ast" x="751.55" y="771.5"/><text class="t" x="751.55" y="755.2">10</text></g>
<g id="astB-11"><use href="#s-ast" x="795.1" y="771.5"/><text class="t" x="795.1" y="755.2">11</text></g>
<g id="astB-12"><use href="#s-ast" x="838.65" y="771.5"/><text class="t" x="838.65" y="755.2">12</text></g>
<g id="astB-13"><use href="#s-ast" x="882.2" y="771.5"/><text class="t" x="882.2" y="755.2">13</text></g>
<g id="astB-15"><use href="#s-ast" x="925.75" y="771.5"/><text class="t" x="925.75" y="755.2">15</text></g>
<g id="astB-17"><use href="#s-ast" x="969.3" y="771.5"/><text class="t" x="969.3" y="755.2">17</text></g>
<g id="astB-20"><use href="#s-ast" x="1143.5" y="771.5"/><text class="t" x="1143.5" y="755.2">20</text></g>
<g id="astB-21"><use href="#s-ast" x="1187.05" y="771.5"/><text class="t" x="1187.05" y="755.2">21</text></g>
<g id="astB-22"><use href="#s-ast" x="1230.6" y="771.5"/><text class="t" x="1230.6" y="755.2">22</text></g>
<g id="astB-23"><use href="#s-ast" x="1274.15" y="771.5"/><text class="t" x="1274.15" y="755.2">23</text></g>
<g id="astB-24"><use href="#s-ast" x="1317.7" y="771.5"/><text class="t" x="1317.7" y="755.2">24</text></g>
<g id="astB-25"><use href="#s-ast" x="1361.25" y="771.5"/><text class="t" x="1361.25" y="755.2">25</text></g>
<g id="astB-26"><use href="#s-ast" x="1404.8" y="771.5"/><text class="t" x="1404.8" y="755.2">26</text></g>
<g id="astB-33"><use href="#s-ast" x="1448.35" y="771.5"/><text class="t" x="1448.35" y="755.2">33</text></g>
<g id="astB-34"><use href="#s-ast" x="1491.9" y="771.5"/><text class="t" x="1491.9" y="755.2">34</text></g>
</g>
</svg>
